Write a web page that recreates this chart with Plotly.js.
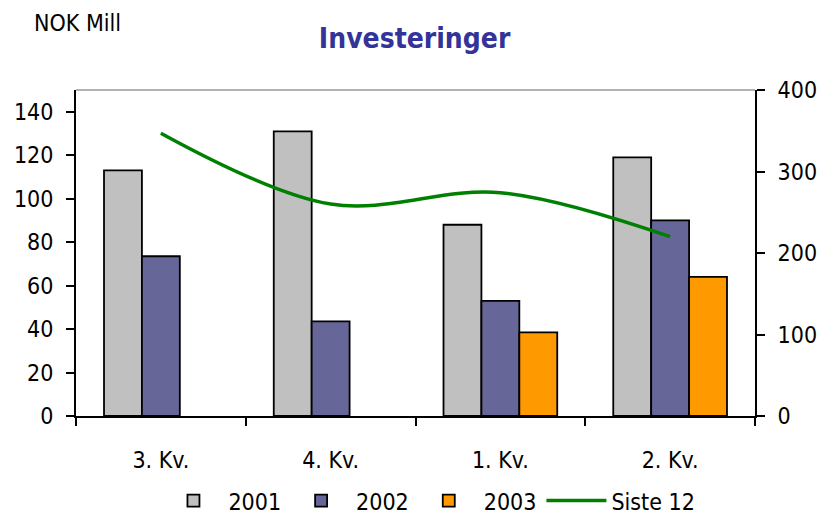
<!DOCTYPE html>
<html>
<head>
<meta charset="utf-8">
<script src="https://cdn.plot.ly/plotly-3.0.1.min.js"></script>
<style>
  html, body { margin: 0; padding: 0; background: #fff; }
  #chart { width: 821px; height: 515px; }
</style>
</head>
<body>
<div id="chart"></div>
<script>
// Quarters and investments (NOK mill) per year, plus rolling 12-month sum on right axis
var quarters = ["3. Kv.", "4. Kv.", "1. Kv.", "2. Kv."];
var inv2001 = [113, 131, 88, 119];
var inv2002 = [73.5, 43.5, 53, 90];
var inv2003 = [null, null, 38.5, 64];
var siste12 = [347, 260, 274, 220];

var font = "DejaVu Sans Condensed, DejaVu Sans, sans-serif";
var outline = {color: "#000", width: 1.8};

var data = [
    {x: quarters, y: inv2001, name: "2001", type: "bar",
     marker: {color: "#c0c0c0", line: outline}},
    {x: quarters, y: inv2002, name: "2002", type: "bar",
     marker: {color: "#666699", line: outline}},
    {x: quarters, y: inv2003, name: "2003", type: "bar",
     marker: {color: "#ff9900", line: outline}},
    {x: quarters, y: siste12, name: "Siste 12", type: "scatter", mode: "lines",
     yaxis: "y2", line: {color: "#008000", width: 3.5, shape: "spline", smoothing: 1}}
];

var layout = {
    width: 821,
    height: 515,
    margin: {l: 76, r: 66, t: 90, b: 99, autoexpand: false},
    paper_bgcolor: "#fff",
    plot_bgcolor: "#fff",
    font: {family: font, size: 23, color: "#000"},
    title: {text: "<b>Investeringer</b>", x: 0.505, xanchor: "center",
            y: 0.926, yanchor: "middle",
            font: {family: font, size: 28, color: "#333399"}},
    barmode: "group",
    bargap: 0.33,
    bargroupgap: 0,
    showlegend: true,
    legend: {orientation: "h", xref: "container", yref: "container",
             x: 0.193, xanchor: "left", y: 0.028, yanchor: "middle",
             itemwidth: 60, bgcolor: "rgba(0,0,0,0)",
             font: {size: 23}, traceorder: "normal"},
    xaxis: {
        type: "category",
        showline: true, linecolor: "#000", linewidth: 2,
        ticks: "outside", ticklen: 8, tickwidth: 2, tickcolor: "#000",
        tickson: "boundaries", ticklabelstandoff: 22,
        showgrid: false, zeroline: false
    },
    yaxis: {
        range: [0, 150], dtick: 20, tick0: 0,
        showline: true, linecolor: "#000", linewidth: 2,
        ticks: "outside", ticklen: 8, tickwidth: 2, tickcolor: "#000",
        showgrid: false, zeroline: false, ticklabelstandoff: 8
    },
    yaxis2: {
        overlaying: "y", side: "right",
        range: [0, 400], dtick: 100, tick0: 0,
        showline: true, linecolor: "#000", linewidth: 2,
        ticks: "outside", ticklen: 8, tickwidth: 2, tickcolor: "#000",
        showgrid: false, zeroline: false, ticklabelstandoff: 8
    },
    shapes: [
        {type: "line", xref: "paper", yref: "paper", x0: 0, x1: 1, y0: 1, y1: 1,
         line: {color: "#999", width: 1.5}}
    ],
    annotations: [
        {text: "NOK Mill", xref: "paper", yref: "paper", x: -0.065, y: 1.205,
         xanchor: "left", yanchor: "middle", showarrow: false,
         font: {family: font, size: 23, color: "#000"}}
    ]
};

Plotly.newPlot("chart", data, layout, {displayModeBar: false, staticPlot: true});
</script>
</body>
</html>
